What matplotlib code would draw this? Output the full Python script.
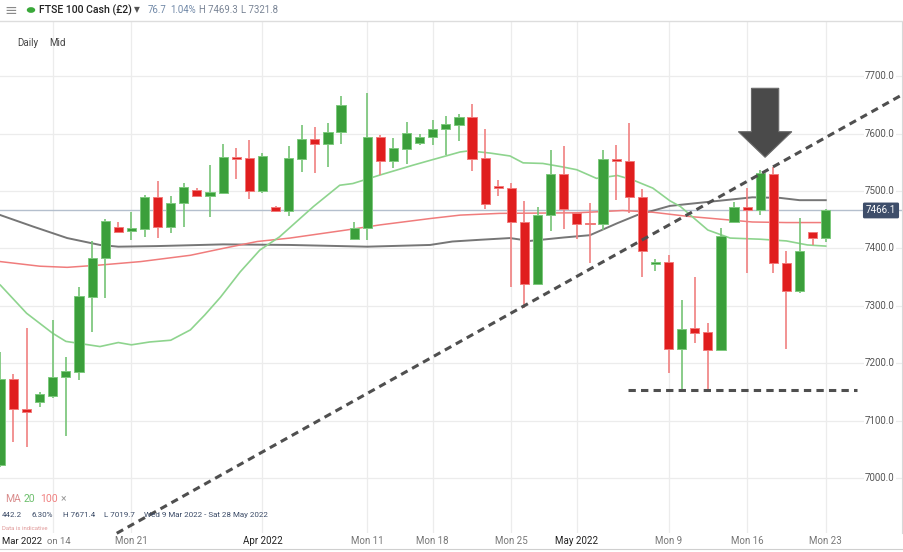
import matplotlib
matplotlib.use("Agg")
import matplotlib.pyplot as plt
import numpy as np
from matplotlib.lines import Line2D
from matplotlib.patches import Polygon, Circle

plt.rcParams["font.family"] = ["Roboto", "DejaVu Sans"]

# candles: Mon-Fri plus Sunday sessions, 9 Mar - 23 May 2022
dates = ["Mar 9", "Mar 10", "Mar 11", "Mar 13", "Mar 14", "Mar 15", "Mar 16", "Mar 17",
         "Mar 18", "Mar 20", "Mar 21", "Mar 22", "Mar 23", "Mar 24", "Mar 25", "Mar 27",
         "Mar 28", "Mar 29", "Mar 30", "Mar 31", "Apr 1", "Apr 3", "Apr 4", "Apr 5",
         "Apr 6", "Apr 7", "Apr 8", "Apr 10", "Apr 11", "Apr 12", "Apr 13", "Apr 14",
         "Apr 17", "Apr 18", "Apr 19", "Apr 20", "Apr 21", "Apr 22", "Apr 24", "Apr 25",
         "Apr 26", "Apr 27", "Apr 28", "Apr 29", "May 1", "May 2", "May 3", "May 4",
         "May 5", "May 6", "May 8", "May 9", "May 10", "May 11", "May 12", "May 13",
         "May 15", "May 16", "May 17", "May 18", "May 19", "May 20", "May 22", "May 23"]

opens = [7022.6, 7172.0, 7119.7, 7131.9, 7143.4, 7176.5, 7185.2, 7315.9,
         7382.8, 7436.8, 7429.8, 7433.3, 7489.0, 7436.8, 7478.6, 7501.7,
         7491.3, 7497.0, 7558.0, 7557.0, 7500.5, 7472.6, 7465.2, 7556.3,
         7590.1, 7581.4, 7602.8, 7416.4, 7435.0, 7594.6, 7552.3, 7573.7,
         7583.1, 7594.1, 7608.0, 7615.5, 7628.4, 7557.0, 7506.5, 7505.7,
         7445.5, 7338.0, 7458.2, 7529.6, 7462.2, 7443.0, 7442.0, 7556.3,
         7552.8, 7490.0, 7372.3, 7375.8, 7224.7, 7260.8, 7254.4, 7223.0,
         7445.5, 7472.6, 7466.9, 7529.6, 7374.0, 7326.3, 7428.0, 7418.6]
highs = [7220.0, 7181.0, 7260.8, 7150.3, 7275.3, 7211.3, 7333.3, 7412.9,
         7451.2, 7445.5, 7463.9, 7493.0, 7518.0, 7491.3, 7513.4, 7505.2,
         7544.8, 7581.9, 7574.4, 7588.9, 7566.2, 7474.4, 7578.4, 7615.0,
         7611.0, 7618.0, 7666.0, 7446.0, 7671.4, 7597.0, 7591.8, 7619.7,
         7598.8, 7623.7, 7631.2, 7634.1, 7651.6, 7607.5, 7519.2, 7514.5,
         7482.6, 7472.6, 7571.4, 7578.4, 7464.0, 7479.6, 7571.4, 7580.1,
         7618.0, 7503.0, 7381.0, 7388.5, 7310.1, 7350.7, 7269.5, 7436.1,
         7481.4, 7504.7, 7536.6, 7541.3, 7396.0, 7452.4, 7428.0, 7469.3]
lows = [7019.7, 7063.0, 7053.5, 7124.2, 7138.9, 7073.7, 7170.7, 7254.9,
        7314.1, 7428.6, 7414.6, 7420.4, 7417.6, 7427.4, 7437.8, 7489.0,
        7455.2, 7494.8, 7520.4, 7486.0, 7497.0, 7462.9, 7456.4, 7533.6,
        7530.8, 7542.3, 7581.4, 7414.6, 7414.6, 7527.9, 7539.5, 7547.0,
        7580.1, 7580.1, 7562.7, 7587.6, 7535.4, 7468.1, 7491.3, 7333.3,
        7295.6, 7338.0, 7430.8, 7433.3, 7416.4, 7375.1, 7432.0, 7484.3,
        7461.1, 7350.7, 7361.2, 7182.4, 7153.3, 7235.7, 7153.3, 7223.0,
        7445.5, 7356.6, 7458.2, 7356.6, 7224.7, 7321.8, 7405.9, 7411.7]
closes = [7172.0, 7119.7, 7114.5, 7145.8, 7176.5, 7186.4, 7317.0, 7382.8,
          7447.7, 7429.1, 7435.5, 7489.0, 7436.8, 7479.6, 7507.5, 7491.3,
          7498.3, 7558.7, 7555.7, 7500.5, 7560.5, 7465.2, 7557.5, 7590.1,
          7581.9, 7603.3, 7649.8, 7435.0, 7594.6, 7552.3, 7574.4, 7601.6,
          7594.6, 7608.0, 7616.2, 7628.4, 7556.3, 7476.8, 7505.0, 7445.5,
          7338.0, 7458.2, 7529.6, 7468.6, 7442.0, 7442.0, 7555.2, 7552.8,
          7490.0, 7396.0, 7375.8, 7224.7, 7259.6, 7253.1, 7223.0, 7422.1,
          7472.6, 7466.9, 7530.8, 7374.0, 7326.3, 7396.0, 7418.6, 7466.1]

# moving averages (candle position, level)
ma20_pos = [0, 2, 4, 5, 7.6, 9, 10, 11.4, 13, 14.5, 15.6, 16.8, 18.3, 19.8, 21.3, 23.9,
            25.9, 26.9, 29, 31.5, 32.9, 35.1, 35.8, 37.4, 38.9, 39.9, 41.4, 42.9, 44,
            45.5, 47.1, 48.3, 49.8, 51.1, 51.9, 54, 55.7, 58, 60, 61.6, 63]
ma20_val = [7336, 7287, 7252, 7238, 7229, 7236, 7232, 7237, 7240, 7258, 7284, 7315, 7359,
            7397, 7420, 7473, 7510, 7513, 7528, 7545, 7554, 7568, 7570, 7566, 7561, 7549,
            7548, 7542, 7537, 7522, 7527, 7519, 7505, 7483, 7473, 7432, 7418, 7416, 7413,
            7406, 7404]
ma100_pos = [0, 3, 5.1, 7.6, 10.7, 14.5, 17, 19.6, 22.1, 26.4, 29, 32.8, 35.1, 38.1, 44,
             47.5, 49.8, 52.4, 54.9, 57.4, 60, 63]
ma100_val = [7377, 7369, 7367, 7371, 7377, 7388, 7400, 7412, 7418, 7432, 7441, 7452, 7458,
             7461, 7462, 7466, 7463, 7456, 7451, 7446, 7445, 7445]
ma_grey_pos = [0, 2.5, 5.1, 7.6, 9, 11.9, 17, 22.1, 28, 32.8, 34.5, 36.6, 38.9, 40.4, 43,
               45, 47.1, 48.6, 51.1, 53.6, 57.4, 59.5, 61, 63]
ma_grey_val = [7458, 7438, 7418, 7406, 7403, 7404, 7407, 7406, 7403, 7406, 7412, 7415,
               7418, 7413, 7419, 7423, 7444, 7458, 7474, 7480, 7489, 7488, 7484, 7484]

last_price = 7466.1
y_levels = [7000, 7100, 7200, 7300, 7400, 7500, 7600, 7700]
x_grid = [4, 10, 20, 28, 33, 39, 44, 51, 57, 63]
x_labels = ["on 14", "Mon 21", "Apr 2022", "Mon 11", "Mon 18", "Mon 25", "May 2022",
            "Mon 9", "Mon 16", "Mon 23"]

# drawn annotations (candle position, price)
trend_line = [(8.88, 6903.7), (68.8, 7667.2)]
support_line = [(47.9, 7153.3), (65.4, 7153.3)]

W, H = 904, 552
fig = plt.figure(figsize=(W / 100, H / 100), dpi=100)
ax = fig.add_axes([0, (H - 533) / H, 902 / W, 511 / H])
ax.set_xlim(-0.03, 68.82)
ax.set_ylim(6904.2, 7794.4)
ax.set_xticks([])
ax.set_yticks([])
for s in ["top", "left", "bottom"]:
    ax.spines[s].set_visible(False)
ax.spines["right"].set_color("#d8d8d8")

for lv in y_levels:
    ax.axhline(lv, color="#ececec", lw=0.9, zorder=0)
for g in x_grid:
    ax.axvline(g, color="#ececec", lw=0.9, zorder=0)

ax.axhline(last_price, color="#b4bfcd", lw=1.0, zorder=1)

ax.plot(ma_grey_pos, ma_grey_val, color="#5e5e5e", lw=1.4, alpha=0.85, zorder=1.5)
ax.plot(ma100_pos, ma100_val, color="#f07c7c", lw=1.1, zorder=1.5)
ax.plot(ma20_pos, ma20_val, color="#8ed48e", lw=1.2, zorder=1.5)

o = np.array(opens)
c = np.array(closes)
x = np.arange(len(o))
up = c >= o
body_col = np.where(up, "#3b9f3b", "#e01e1e")
edge_col = np.where(up, "#7ec97e", "#f27a7a")
wick_col = np.where(up, "#76c476", "#f08080")
ax.vlines(x, lows, highs, colors=wick_col, lw=1.2, zorder=2)
bottom = np.minimum(o, c)
height = np.maximum(np.abs(c - o), 3.0)
ax.bar(x, height, width=0.7, bottom=bottom, color=body_col, edgecolor=edge_col,
       linewidth=0.7, zorder=3)

(tx0, ty0), (tx1, ty1) = trend_line
ax.plot([tx0, tx1], [ty0, ty1], color="#4f4f4f", lw=2.2, ls=(0, (2.4, 1.7)), zorder=4,
        clip_on=False)
(sx0, sy0), (sx1, sy1) = support_line
ax.plot([sx0, sx1], [sy0, sy1], color="#4f4f4f", lw=2.2, ls=(0, (2.4, 1.7)), zorder=4)

# big arrow
ac = 58.37
arrow = Polygon([(ac - 1.04, 7678.9), (ac + 1.04, 7678.9), (ac + 1.04, 7603.3),
                 (ac + 2.04, 7603.3), (ac, 7558.7), (ac - 2.04, 7603.3),
                 (ac - 1.04, 7603.3)], closed=True, facecolor="#4a4a4a",
                edgecolor="#6a6a6a", lw=0.8, zorder=6)
ax.add_patch(arrow)

ytr = ax.get_yaxis_transform()
for lv in y_levels:
    ax.text(880 / 902, lv, f"{lv:.1f}", transform=ytr, ha="center", va="center",
            fontsize=7, color="#555555", zorder=5,
            bbox=dict(boxstyle="square,pad=0.15", fc="white", ec="none"))
ax.text(881 / 902, last_price, f"{last_price:.1f}", transform=ytr, ha="center",
        va="center", fontsize=7, color="white", zorder=7,
        bbox=dict(boxstyle="round,pad=0.3,rounding_size=0.15", fc="#3e4e6a", ec="none"))

xtr = ax.get_xaxis_transform()
for g, lab in zip(x_grid, x_labels):
    month = "2022" in lab
    if lab == "on 14":
        continue
    ax.text(g, -8 / 511, lab, transform=xtr, ha="center", va="center", fontsize=7,
            color="#222222" if month else "#777777", clip_on=False)


def fx(px):
    return px / W


def fy(py):
    return 1 - py / H


fig.text(fx(2), fy(541), "Mar 2022", fontsize=6.8, color="#222222", va="center")
fig.text(fx(47), fy(541), "on 14", fontsize=6.8, color="#777777", va="center")
fig.add_artist(Line2D([0, 1], [fy(549), fy(549)], color="#cfcfcf", lw=0.8))

# header
fig.add_artist(Line2D([0, 1], [fy(21), fy(21)], color="#dddddd", lw=1.0))
fig.text(fx(4), fy(10), "≡", fontsize=11, color="#8a8a8a", va="center",
         family="DejaVu Sans")
fig.add_artist(Circle((fx(31), fy(10)), 3.5 / W, transform=fig.transFigure,
                      color="#3aa83a"))
fig.text(fx(39), fy(10), "FTSE 100 Cash (£2)", fontsize=7.6, color="#222222",
         va="center", fontweight="medium")
fig.text(fx(134), fy(10), "▼", fontsize=5.5, color="#555555", va="center",
         family="DejaVu Sans")
fig.text(fx(148), fy(10), "76.7", fontsize=6.9, color="#7189a8", va="center")
fig.text(fx(170), fy(10), "1.04%", fontsize=6.9, color="#7189a8", va="center")
fig.text(fx(199), fy(10), "H 7469.3", fontsize=6.9, color="#7a8596", va="center")
fig.text(fx(241), fy(10), "L 7321.8", fontsize=6.9, color="#7a8596", va="center")
fig.text(fx(17), fy(43), "Daily", fontsize=7, color="#444444", va="center")
fig.text(fx(49), fy(43), "Mid", fontsize=7, color="#444444", va="center")

# indicator legend
fig.text(fx(5), fy(499), "MA", fontsize=7.5, color="#d98c8c", va="center")
fig.text(fx(24), fy(499), "20", fontsize=7.5, color="#6dbf6d", va="center")
fig.text(fx(40), fy(499), "100", fontsize=7.5, color="#f08080", va="center")
fig.text(fx(61), fy(499), "×", fontsize=7.5, color="#999999", va="center")
for px, t in [(2, "442.2"), (32, "6.30%"), (63, "H 7671.4"), (104, "L 7019.7"),
              (144, "Wed 9 Mar 2022 - Sat 28 May 2022")]:
    fig.text(fx(px), fy(515), t, fontsize=5.8, color="#3a4a66", va="center")
fig.text(fx(2), fy(529), "Data is indicative", fontsize=4.3, color="#e09898",
         va="center")

fig.savefig("out.png", dpi=100)
